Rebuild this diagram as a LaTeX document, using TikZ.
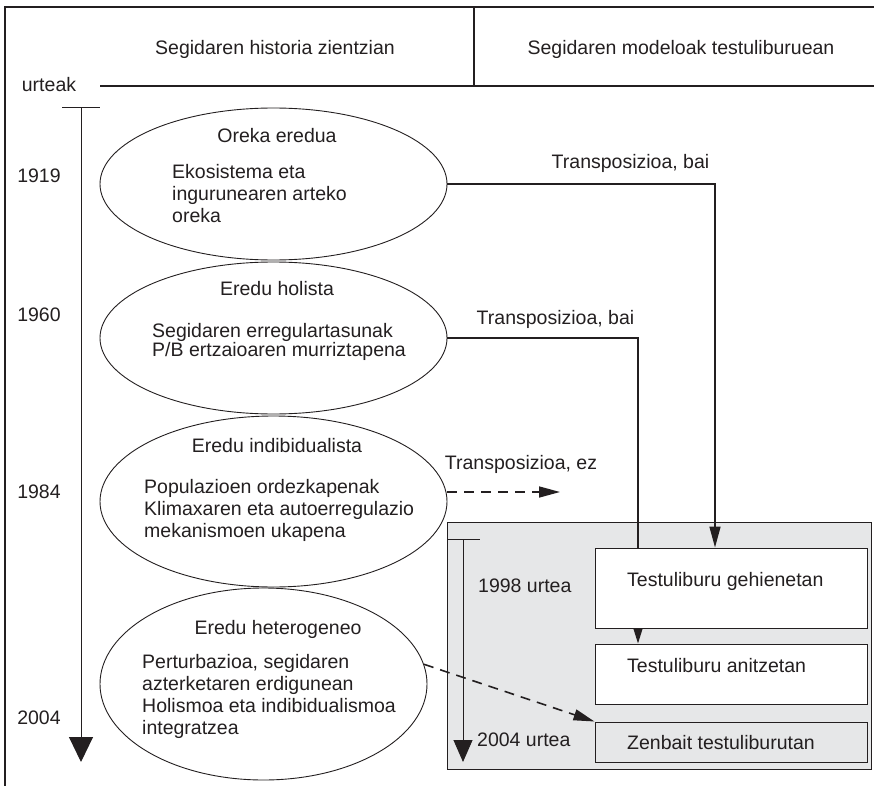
\documentclass[tikz,border=0pt]{standalone}
\usepackage{fontspec}
\setmainfont{Liberation Sans}
\usetikzlibrary{arrows.meta,shapes.geometric}
\definecolor{ink}{HTML}{231F20}
\definecolor{panel}{HTML}{E6E7E8}
\tikzset{
	lbl/.style={inner sep=0pt, text=ink, font=\fontsize{19.5}{22}\selectfont},
	ell/.style={ellipse, draw=ink, line width=0.9pt, inner sep=0pt},
	box/.style={draw=ink, line width=1pt, inner sep=0pt, minimum width=272},
	conn/.style={draw=ink, line width=1.6pt},
	arr/.style={-{Triangle[length=21pt, width=11pt]}},
	frame/.style={draw=ink, line width=1.1pt}
}
\begin{document}
\begin{tikzpicture}[x=1pt, y=-1pt]
	\useasboundingbox (0,0) rectangle (874,786);
	% head of the table
	\draw[frame] (874,7) to (5,7) to (5,786);
	\draw[frame] (474,7) to (474,86);
	\draw[frame] (100,86) to (874,86);
	\node[lbl, anchor=base] (0) at (275,54.5) {Segidaren historia zientzian};
	\node[lbl, anchor=base] (1) at (681,54.5) {Segidaren modeloak testuliburuean};
	\node[lbl, anchor=base] (2) at (49,92) {urteak};
	% time axis
	\coordinate (3) at (62,108);
	\coordinate (4) at (100,108);
	\coordinate (5) at (81,108);
	\coordinate (6) at (81,762);
	\draw[draw=ink, line width=1pt] (3) to (4);
	\draw[draw=ink, line width=1pt, -{Triangle[length=25pt, width=24pt]}] (5) to (6);
	\node[lbl, anchor=base] (7) at (39,183) {1919};
	\node[lbl, anchor=base] (8) at (39,321) {1960};
	\node[lbl, anchor=base] (9) at (39,498) {1984};
	\node[lbl, anchor=base] (10) at (39,724) {2004};
	% models
	\node[ell, minimum width=347, minimum height=152] (11) at (273.5,184) {};
	\node[ell, minimum width=347, minimum height=152] (12) at (273.5,338) {};
	\node[ell, minimum width=347, minimum height=171] (13) at (273.5,501.5) {};
	\node[ell, minimum width=327, minimum height=192] (14) at (263.5,684) {};
	\node[lbl, anchor=base] (15) at (277,143) {Oreka eredua};
	\node[lbl, anchor=base] (16) at (277,295) {Eredu holista};
	\node[lbl, anchor=base] (17) at (277,452) {Eredu indibidualista};
	\node[lbl, anchor=base] (18) at (278,634) {Eredu heterogeneo};
	\node[lbl, anchor=north west, align=left] (19) at (172,164) {Ekosistema eta\\ingurunearen arteko\\oreka};
	\node[lbl, anchor=north west, align=left, font=\fontsize{19.5}{19}\selectfont] (20) at (152,323) {Segidaren erregulartasunak\\P/B ertzaioaren murriztapena};
	\node[lbl, anchor=north west, align=left] (21) at (144,479) {Populazioen ordezkapenak\\Klimaxaren eta autoerregulazio\\mekanismoen ukapena};
	\node[lbl, anchor=north west, align=left] (22) at (142,654) {Perturbazioa, segidaren\\azterketaren erdigunean\\Holismoa eta indibidualismoa\\integratzea};
	% textbooks
	\fill[panel] (447,522) rectangle (871,769);
	\draw[draw=ink, line width=1pt] (447,522) rectangle (871,769);
	\node[box, fill=white, minimum height=80] (23) at (731,588) {};
	\node[box, fill=white, minimum height=60] (24) at (731,674) {};
	\node[box, fill=panel, minimum height=40] (25) at (731,742) {};
	\node[lbl, anchor=base west] (26) at (627,586) {Testuliburu gehienetan};
	\node[lbl, anchor=base west] (27) at (627,672) {Testuliburu anitzetan};
	\node[lbl, anchor=base west] (28) at (627,749) {Zenbait testuliburutan};
	\coordinate (29) at (447,539);
	\coordinate (30) at (480,539);
	\coordinate (31) at (463,539);
	\coordinate (32) at (463,762);
	\draw[draw=ink, line width=1pt] (29) to (30);
	\draw[draw=ink, line width=1pt, -{Triangle[length=22pt, width=19pt]}] (31) to (32);
	\node[lbl, anchor=base west] (33) at (478,592) {1998 urtea};
	\node[lbl, anchor=base west] (34) at (477,746) {2004 urtea};
	% transpositions
	\node[lbl, anchor=base] (35) at (630.5,169) {Transposizioa, bai};
	\node[lbl, anchor=base] (36) at (555.5,324) {Transposizioa, bai};
	\node[lbl, anchor=base] (37) at (521,469) {Transposizioa, ez};
	\coordinate (38) at (715,184);
	\coordinate (39) at (638,338);
	\coordinate (40) at (560,492);
	\draw[conn, arr] (11.east) to (38) to (38 |- 23.north);
	\draw[conn] (12.east) to (39) to (39 |- 23.north);
	\draw[conn, arr, dash pattern=on 10pt off 7pt] (13.east |- 40) to (40);
	\draw[draw=ink, line width=1.2pt, -{Triangle[length=15pt, width=9pt]}] (39 |- 23.south) to (39 |- 24.north);
	\draw[conn, arr, dash pattern=on 10pt off 7pt] (14.7) to (25.north west);
\end{tikzpicture}
\end{document}
